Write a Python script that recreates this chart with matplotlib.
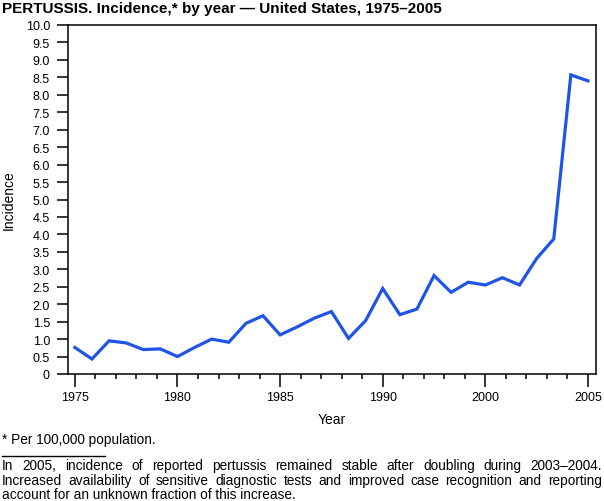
import numpy as np
import matplotlib
matplotlib.use("Agg")
import matplotlib.pyplot as plt

plt.rcParams['font.family'] = ['Liberation Sans', 'DejaVu Sans']

years = np.arange(1975, 2006)
incidence = [0.76, 0.43, 0.95, 0.89, 0.70, 0.72, 0.50, 0.76, 1.00, 0.91,
             1.45, 1.67, 1.12, 1.35, 1.60, 1.79, 1.02, 1.53, 2.45, 1.70,
             1.86, 2.82, 2.34, 2.63, 2.55, 2.76, 2.55, 3.31, 3.87, 8.57,
             8.40]

# axis labels as printed on the original figure
x_tick_labels = ["1975", "1980", "1985", "1990", "2000", "2005"]
y_ticks = np.arange(0, 10.01, 0.5)
y_tick_labels = ["0"] + [f"{v:.1f}" for v in y_ticks[1:]]

title = "PERTUSSIS. Incidence,* by year \u2014 United States, 1975\u20132005"
footnote = "* Per 100,000 population."
note_lines = [
    "In 2005, incidence of reported pertussis remained stable after doubling during 2003\u20132004.",
    "Increased availability of sensitive diagnostic tests and improved case recognition and reporting",
    "account for an unknown fraction of this increase.",
]

fig = plt.figure(figsize=(6.04, 5.02), dpi=100)
ax = fig.add_axes([68 / 604, 1 - 375 / 502, (596 - 68) / 604, (375 - 26) / 502])

ax.plot(years, incidence, color="#1f55e6", linewidth=2.3, solid_joinstyle="miter")

ax.set_xlim(1974.6, 2005.47)
ax.set_ylim(0, 10)

ax.set_xticks(np.linspace(1975, 2005, len(x_tick_labels)))
ax.set_xticklabels(x_tick_labels)
ax.set_xticks(np.linspace(1975, 2005, 26), minor=True)
ax.set_yticks(y_ticks)
ax.set_yticklabels(y_tick_labels)

ax.tick_params(axis="y", direction="out", length=8, width=1.1, pad=5, labelsize=9)
ax.tick_params(axis="x", which="major", direction="out", length=9, width=1.1, pad=3.5, labelsize=9)
ax.tick_params(axis="x", which="minor", direction="out", length=3.5, width=1.1)
for s in ax.spines.values():
    s.set_linewidth(1.1)

ax.set_xlabel("Year", fontsize=10, labelpad=6)
ax.set_ylabel("Incidence", fontsize=10)
ax.yaxis.set_label_coords(-52 / 528, 0.5)

fig.text(2 / 604, 1 - 9 / 502, title, fontsize=11, fontweight="bold", va="center", ha="left")
fig.text(2 / 604, 1 - 440 / 502, footnote, fontsize=9.8, va="center", ha="left")
fig.add_artist(plt.Line2D([2 / 604, 105 / 604], [1 - 457 / 502, 1 - 457 / 502],
                          color="black", linewidth=1))


def justified_line(fig, text, x0, x1, y, fontsize):
    # place words one by one so the line fills the width from x0 to x1
    renderer = fig.canvas.get_renderer()
    words = text.split()
    arts = [fig.text(0, y, w, fontsize=fontsize, va="center", ha="left") for w in words]
    widths = [a.get_window_extent(renderer).width for a in arts]
    gap = (x1 - x0 - sum(widths)) / (len(words) - 1)
    x = x0
    for a, w in zip(arts, widths):
        a.set_x(x / fig.bbox.width)
        x += w + gap


note_y = [466, 481, 495.5]
for i, line in enumerate(note_lines):
    y = 1 - note_y[i] / 502
    if i < len(note_lines) - 1:
        justified_line(fig, line, 2, 602, y, 9.8)
    else:
        fig.text(2 / 604, y, line, fontsize=9.8, va="center", ha="left")

fig.savefig("out.png", dpi=100)
